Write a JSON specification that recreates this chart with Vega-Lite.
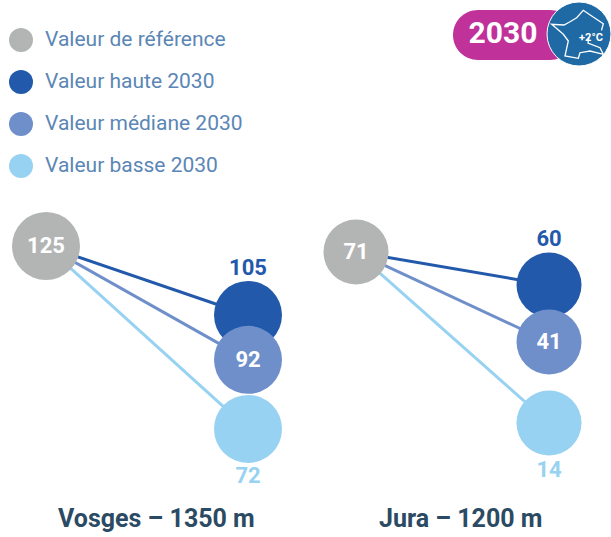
{
"$schema":"https://vega.github.io/schema/vega-lite/v6.json",
"padding":0,
"background":"white",
"spacing":0,
"datasets":{
"valeurs":[
{"massif":"Vosges","serie":"Valeur de référence","temps":"Référence","valeur":125},
{"massif":"Vosges","serie":"Valeur haute 2030","temps":"2030","valeur":105},
{"massif":"Vosges","serie":"Valeur médiane 2030","temps":"2030","valeur":92},
{"massif":"Vosges","serie":"Valeur basse 2030","temps":"2030","valeur":72},
{"massif":"Jura","serie":"Valeur de référence","temps":"Référence","valeur":71},
{"massif":"Jura","serie":"Valeur haute 2030","temps":"2030","valeur":60},
{"massif":"Jura","serie":"Valeur médiane 2030","temps":"2030","valeur":41},
{"massif":"Jura","serie":"Valeur basse 2030","temps":"2030","valeur":14}
],
"liens":[
{"massif":"Vosges","serie":"Valeur haute 2030","de":125,"vers":105},
{"massif":"Vosges","serie":"Valeur médiane 2030","de":125,"vers":92},
{"massif":"Vosges","serie":"Valeur basse 2030","de":125,"vers":72},
{"massif":"Jura","serie":"Valeur haute 2030","de":71,"vers":60},
{"massif":"Jura","serie":"Valeur médiane 2030","de":71,"vers":41},
{"massif":"Jura","serie":"Valeur basse 2030","de":71,"vers":14}
]
},
"hconcat":[
{
"width":305,"height":500,
"title":{"text":"Vosges – 1350 m","orient":"bottom","anchor":"start","offset":6,"dx":58,"font":"Roboto","fontSize":25,"fontWeight":"bold","color":"#2b4a63"},
"layer":[
{"data":{"name":"liens"},"transform":[{"filter":"datum.massif==='Vosges'"}],"mark":{"type":"rule","strokeWidth":3},
"encoding":{
"x":{"datum":"Référence","type":"ordinal","scale":{"type":"point","padding":0,"domain":["Référence","2030"],"range":[46,248]},"axis":null},
"x2":{"datum":"2030"},
"y":{"field":"de","type":"quantitative","scale":{"domain":[51.1,196],"nice":false,"zero":false},"axis":null},
"y2":{"field":"vers"},
"color":{"field":"serie","type":"nominal","scale":{"domain":["Valeur de référence","Valeur haute 2030","Valeur médiane 2030","Valeur basse 2030"],"range":["#b3b5b5","#2359ab","#6f8fcb","#97d2f2"]},"sort":null}}},
{"data":{"name":"valeurs"},"transform":[{"filter":"datum.massif==='Vosges'"}],"mark":{"type":"point","filled":true,"opacity":1,"size":4624,"shape":"circle"},
"encoding":{
"x":{"field":"temps","type":"ordinal","scale":{"type":"point","padding":0,"domain":["Référence","2030"],"range":[46,248]},"axis":null},
"y":{"field":"valeur","type":"quantitative","scale":{"domain":[51.1,196],"nice":false,"zero":false},"axis":null},
"color":{"field":"serie","type":"nominal","scale":{"domain":["Valeur de référence","Valeur haute 2030","Valeur médiane 2030","Valeur basse 2030"],"range":["#b3b5b5","#2359ab","#6f8fcb","#97d2f2"]},"sort":null}}},
{"data":{"name":"valeurs"},"transform":[{"filter":"datum.massif==='Vosges' && (datum.serie==='Valeur de référence' || datum.serie==='Valeur médiane 2030')"}],"mark":{"type":"text","font":"Roboto","fontSize":22,"fontWeight":"bold","color":"white"},
"encoding":{"x":{"field":"temps","type":"ordinal"},"y":{"field":"valeur","type":"quantitative"},"text":{"field":"valeur","type":"quantitative"}}},
{"data":{"name":"valeurs"},"transform":[{"filter":"datum.massif==='Vosges' && datum.serie==='Valeur haute 2030'"}],"mark":{"type":"text","font":"Roboto","fontSize":22,"fontWeight":"bold","dy":-47,"color":"#2359ab"},
"encoding":{"x":{"field":"temps","type":"ordinal"},"y":{"field":"valeur","type":"quantitative"},"text":{"field":"valeur","type":"quantitative"}}},
{"data":{"name":"valeurs"},"transform":[{"filter":"datum.massif==='Vosges' && datum.serie==='Valeur basse 2030'"}],"mark":{"type":"text","font":"Roboto","fontSize":22,"fontWeight":"bold","dy":47,"color":"#97d2f2"},
"encoding":{"x":{"field":"temps","type":"ordinal"},"y":{"field":"valeur","type":"quantitative"},"text":{"field":"valeur","type":"quantitative"}}}
]
},
{
"width":306,"height":500,
"title":{"text":"Jura – 1200 m","orient":"bottom","anchor":"start","offset":6,"dx":74,"font":"Roboto","fontSize":25,"fontWeight":"bold","color":"#2b4a63"},
"layer":[
{"data":{"name":"liens"},"transform":[{"filter":"datum.massif==='Jura'"}],"mark":{"type":"rule","strokeWidth":3},
"encoding":{
"x":{"datum":"Référence","type":"ordinal","scale":{"type":"point","padding":0,"domain":["Référence","2030"],"range":[51,244]},"axis":null},
"x2":{"datum":"2030"},
"y":{"field":"de","type":"quantitative","scale":{"domain":[-12,154.67],"nice":false,"zero":false},"axis":null},
"y2":{"field":"vers"},
"color":{"field":"serie","type":"nominal","scale":{"domain":["Valeur de référence","Valeur haute 2030","Valeur médiane 2030","Valeur basse 2030"],"range":["#b3b5b5","#2359ab","#6f8fcb","#97d2f2"]},"sort":null}}},
{"data":{"name":"valeurs"},"transform":[{"filter":"datum.massif==='Jura'"}],"mark":{"type":"point","filled":true,"opacity":1,"size":4225,"shape":"circle"},
"encoding":{
"x":{"field":"temps","type":"ordinal","scale":{"type":"point","padding":0,"domain":["Référence","2030"],"range":[51,244]},"axis":null},
"y":{"field":"valeur","type":"quantitative","scale":{"domain":[-12,154.67],"nice":false,"zero":false},"axis":null},
"color":{"field":"serie","type":"nominal","scale":{"domain":["Valeur de référence","Valeur haute 2030","Valeur médiane 2030","Valeur basse 2030"],"range":["#b3b5b5","#2359ab","#6f8fcb","#97d2f2"]},"sort":null}}},
{"data":{"name":"valeurs"},"transform":[{"filter":"datum.massif==='Jura' && (datum.serie==='Valeur de référence' || datum.serie==='Valeur médiane 2030')"}],"mark":{"type":"text","font":"Roboto","fontSize":22,"fontWeight":"bold","color":"white"},
"encoding":{"x":{"field":"temps","type":"ordinal"},"y":{"field":"valeur","type":"quantitative"},"text":{"field":"valeur","type":"quantitative"}}},
{"data":{"name":"valeurs"},"transform":[{"filter":"datum.massif==='Jura' && datum.serie==='Valeur haute 2030'"}],"mark":{"type":"text","font":"Roboto","fontSize":22,"fontWeight":"bold","dy":-46,"color":"#2359ab"},
"encoding":{"x":{"field":"temps","type":"ordinal"},"y":{"field":"valeur","type":"quantitative"},"text":{"field":"valeur","type":"quantitative"}}},
{"data":{"name":"valeurs"},"transform":[{"filter":"datum.massif==='Jura' && datum.serie==='Valeur basse 2030'"}],"mark":{"type":"text","font":"Roboto","fontSize":22,"fontWeight":"bold","dy":47,"color":"#97d2f2"},
"encoding":{"x":{"field":"temps","type":"ordinal"},"y":{"field":"valeur","type":"quantitative"},"text":{"field":"valeur","type":"quantitative"}}},
{"data":{"values":[{"badge":"2030","degres":"+2°C"}]},"mark":{"type":"rect","fill":"#c0319a","cornerRadius":25},
"encoding":{"x":{"value":148},"x2":{"value":270},"y":{"value":9},"y2":{"value":59}}},
{"data":{"values":[{"badge":"2030","degres":"+2°C"}]},"mark":{"type":"point","filled":true,"shape":"circle","size":4096,"fill":"#1f6aa5","stroke":"white","strokeWidth":1,"opacity":1},
"encoding":{"x":{"value":274},"y":{"value":33}}},
{"data":{"values":[{"badge":"2030","degres":"+2°C"}]},"mark":{"type":"point","filled":false,"size":40000,"stroke":"white","strokeWidth":1.3,"opacity":1,
"shape":"M.1,.03L.09,.09L.21,.137L.243,.203L.11,.17L.01,.187L-.007,.243L-.14,.22L-.107,.07L-.157,.003L-.273,-.097L-.15,-.09L-.09,-.123L-.023,-.163L.043,-.237L.127,-.18L.243,-.103L.225,-.037"},
"encoding":{"x":{"value":274},"y":{"value":33}}},
{"data":{"values":[{"badge":"2030","degres":"+2°C"}]},"mark":{"type":"text","font":"Roboto","fontSize":30,"fontWeight":"bold","color":"white"},
"encoding":{"x":{"value":198},"y":{"value":33},"text":{"field":"badge"}}},
{"data":{"values":[{"badge":"2030","degres":"+2°C"}]},"mark":{"type":"text","font":"Roboto","fontSize":11,"fontWeight":"bold","color":"white"},
"encoding":{"x":{"value":286},"y":{"value":37},"text":{"field":"degres"}}}
]
}
],
"resolve":{"scale":{"color":"shared"}},
"config":{
"view":{"stroke":null},
"legend":{"orient":"none","legendX":9,"legendY":27,"title":null,"labelFont":"Roboto","labelFontSize":21,"labelColor":"#5b86b5","symbolSize":576,"symbolType":"circle","rowPadding":18,"labelOffset":12,"symbolStrokeWidth":0,"labelLimit":300}
}
}
